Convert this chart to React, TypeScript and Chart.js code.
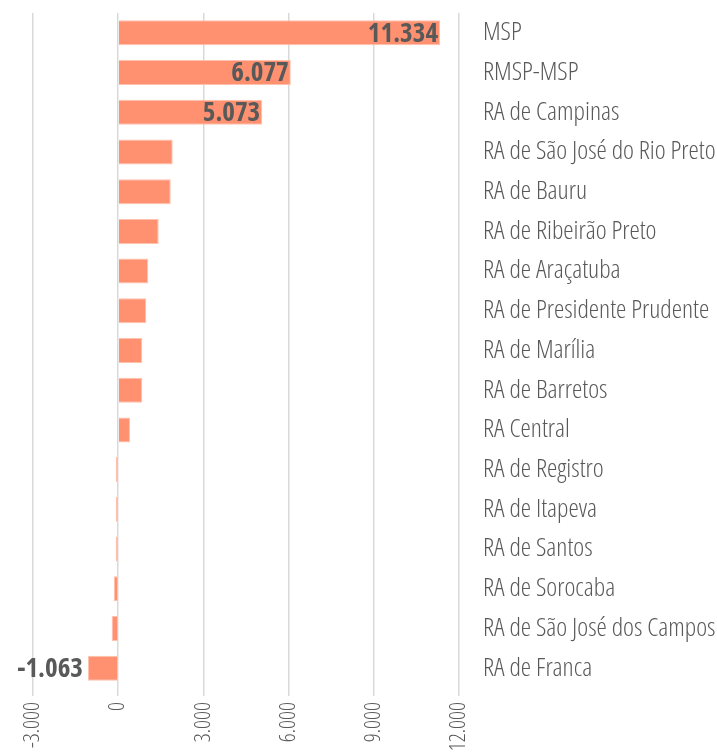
import React, { useEffect, useRef } from "react";
import { Chart, registerables } from "chart.js";
Chart.register(...registerables);

const categories = [
  "MSP",
  "RMSP-MSP",
  "RA de Campinas",
  "RA de São José do Rio Preto",
  "RA de Bauru",
  "RA de Ribeirão Preto",
  "RA de Araçatuba",
  "RA de Presidente Prudente",
  "RA de Marília",
  "RA de Barretos",
  "RA Central",
  "RA de Registro",
  "RA de Itapeva",
  "RA de Santos",
  "RA de Sorocaba",
  "RA de São José dos Campos",
  "RA de Franca",
];

const values = [11334, 6077, 5073, 1919, 1850, 1426, 1060, 990, 850, 848, 415, -80, -80, -85, -158, -229, -1063];

const labeledIndices = [0, 1, 2, 16];

const xTicks = [-3000, 0, 3000, 6000, 9000, 12000];

const FONT = "'Open Sans', 'DejaVu Sans Condensed', sans-serif";

function fmt(v: number): string {
  const s = Math.abs(Math.round(v))
    .toString()
    .replace(/\B(?=(\d{3})+(?!\d))/g, ".");
  return (v < 0 ? "-" : "") + s;
}

const dataLabelPlugin = {
  id: "dataLabels",
  afterDatasetsDraw(chart: any) {
    const ctx = chart.ctx;
    const meta = chart.getDatasetMeta(0);
    ctx.save();
    ctx.font = `condensed bold 27px ${FONT}`;
    ctx.fillStyle = "#595959";
    ctx.textBaseline = "middle";
    ctx.textAlign = "right";
    labeledIndices.forEach((i) => {
      const el = meta.data[i];
      const v = values[i];
      if (!el) return;
      if (v >= 0) {
        ctx.fillText(fmt(v), el.x - 2, el.y + 1);
      } else {
        ctx.fillText(fmt(v), el.x - 5, el.y + 1);
      }
    });
    ctx.restore();
  },
};

export default function App() {
  const ref = useRef<HTMLCanvasElement | null>(null);

  useEffect(() => {
    if (!ref.current) return;
    const chart = new Chart(ref.current, {
      type: "bar",
      data: {
        labels: categories,
        datasets: [
          {
            data: values,
            backgroundColor: "#FF9170",
            borderColor: "#FFC2AE",
            borderWidth: 1,
            barPercentage: 0.63,
            categoryPercentage: 1,
          },
        ],
      },
      options: {
        indexAxis: "y",
        animation: false,
        responsive: true,
        maintainAspectRatio: false,
        layout: { padding: { left: 33, top: 13, right: 0, bottom: 0 } },
        plugins: {
          legend: { display: false },
          tooltip: { enabled: false },
        },
        scales: {
          x: {
            type: "linear",
            min: -3000,
            max: 12000,
            afterBuildTicks: (scale: any) => {
              scale.ticks = xTicks.map((v) => ({ value: v }));
            },
            afterFit: (scale: any) => {
              scale.height = 67;
              scale.paddingLeft = 0;
              scale.paddingRight = 0;
              scale.paddingTop = 0;
              scale.paddingBottom = 0;
            },
            grid: {
              color: "#d9d9d9",
              lineWidth: 1.5,
              tickLength: 8,
              drawTicks: true,
            },
            border: { display: false },
            ticks: {
              minRotation: 90,
              maxRotation: 90,
              padding: 6,
              color: "#595959",
              font: { family: FONT, size: 22, weight: "condensed 300" as any },
              callback: (v: any) => fmt(Number(v)),
            },
          },
          y: {
            type: "category",
            position: "right",
            afterFit: (scale: any) => {
              scale.width = 258;
              scale.paddingTop = 0;
              scale.paddingBottom = 0;
              scale.paddingLeft = 0;
              scale.paddingRight = 0;
            },
            grid: { display: false, drawTicks: false },
            border: { display: false },
            ticks: {
              padding: 24,
              color: "#595959",
              font: { family: FONT, size: 26, weight: "condensed 300" as any },
            },
          },
        },
      },
      plugins: [dataLabelPlugin],
    });
    return () => chart.destroy();
  }, []);

  return (
    <div style={{ position: "fixed", left: 0, top: 0, width: 717, height: 755, background: "#fff" }}>
      <canvas ref={ref} />
    </div>
  );
}
